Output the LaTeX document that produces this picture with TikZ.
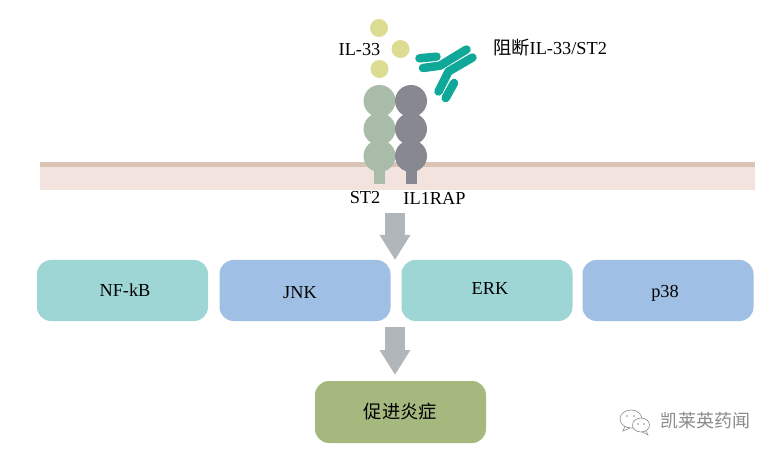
\documentclass[tikz,border=0pt]{standalone}
\usepackage{fontspec}
\setmainfont{Liberation Serif}
\newfontfamily\cjk{Noto Sans CJK SC}
\usetikzlibrary{arrows.meta}
\usetikzlibrary{positioning}

\definecolor{ligandcol}{HTML}{DCDD92}
\definecolor{stcol}{HTML}{A9BBA9}
\definecolor{rapcol}{HTML}{888893}
\definecolor{abcol}{HTML}{10A898}
\definecolor{flowcol}{HTML}{B1B6BA}
\definecolor{tealbox}{HTML}{9DD6D4}
\definecolor{bluebox}{HTML}{A0BFE4}
\definecolor{greenbox}{HTML}{A5B87E}
\definecolor{markcol}{HTML}{8A8A8A}
\definecolor{lipidtop}{HTML}{D9C4B5}
\definecolor{lipidbody}{HTML}{F3E3DF}

\begin{document}
\begin{tikzpicture}[
    x=1pt, y=-1pt,
    every node/.style={color=black, font=\fontsize{18.3}{20}\selectfont},
    pathway/.style={rectangle, rounded corners=14pt, minimum width=171pt, minimum height=61pt, inner sep=0pt},
    ball/.style={circle, minimum size=32pt, inner sep=0pt},
    ligand/.style={circle, fill=ligandcol, minimum size=18pt, inner sep=0pt},
    stem/.style={line width=11pt},
    chain/.style={line width=8.5pt, color=abcol, line cap=round, line join=round},
    flow/.style={line width=20pt, color=flowcol, -{Triangle[length=25pt,width=29pt]}},
    bubble/.style={draw=markcol, line width=0.6pt, fill=white}
    ]

\useasboundingbox (0,0) rectangle (776,454);
\fill[white] (0,0) rectangle (776,454);

% membrane
\fill[lipidbody] (40,167) rectangle (755,190);
\fill[lipidtop] (40,162) rectangle (755,167);

% receptors
\draw[stem, stcol] (379.5,150) -- (379.5,184.5);
\draw[stem, rapcol] (411,150) -- (411,184.5);
\foreach \yy/\nn in {101/a,129/b,156/c} {
    \node[ball, fill=stcol] (st\nn) at (379.5,\yy) {};
    \node[ball, fill=rapcol] (rap\nn) at (411,\yy) {};
}

% ligand
\node[ligand] (dota) at (379,28) {};
\node[ligand] (dotb) at (400.5,49) {};
\node[ligand] (dotc) at (379.5,69) {};

% antibody
\draw[chain] (419.5,58.3) -- (436.5,56.7);
\draw[chain] (423,68) -- (440,65.7) -- (466.5,49.5);
\draw[chain] (438.5,91.5) -- (448.5,71.5) -- (472.5,57.5);
\draw[chain] (445.7,98) -- (454,83);

% labels
\node (ilname) at (359.5,49.5) {IL-33};
\node (blockname) at (550,47.5) {{\cjk 阻断}IL-33/ST2};
\node (stname) at (365,198) {ST2};
\node (rapname) at (434.5,198) {IL1RAP};

% pathways
\node[pathway, fill=tealbox] (nfkb) at (122.5,290.5) {};
\node[pathway, fill=bluebox] (jnk) at (305,290.5) {};
\node[pathway, fill=tealbox] (erk) at (487,290.5) {};
\node[pathway, fill=bluebox] (pxxx) at (668,290.5) {};
\node (nfkbname) at (125,290) {NF-kB};
\node (jnkname) at (300,292.5) {JNK};
\node (erkname) at (490,289) {ERK};
\node (pname) at (665,293) {p38};
\node[pathway, fill=greenbox, minimum height=62pt] (result) at (400.5,412) {{\cjk 促进炎症}};

% arrows
\coordinate (flowa) at (395,213);
\coordinate (flowb) at (395,260);
\coordinate (flowc) at (395,327);
\coordinate (flowd) at (395,375);
\draw[flow] (flowa) -- (flowb);
\draw[flow] (flowc) -- (flowd);

% watermark
\node[font=\fontsize{18}{20}\selectfont\cjk, color=markcol, inner sep=0pt] (markname) at (705,421) {凯莱英药闻};
\draw[bubble] (625,426) -- (623,431) -- (630,428);
\draw[bubble] (631,419) ellipse (11pt and 9pt);
\draw[bubble] (646,431) -- (648,435) -- (642,432);
\draw[bubble] (641,425) ellipse (8.5pt and 7pt);
\foreach \xx/\yy in {627/416,634/416,638/424,644/424}
    \fill[markcol] (\xx,\yy) circle (0.8pt);

\end{tikzpicture}
\end{document}
